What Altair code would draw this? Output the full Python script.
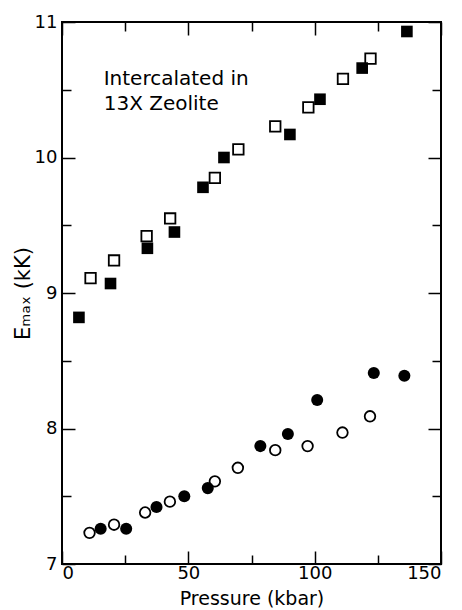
import altair as alt
import pandas as pd

# Filled squares
fsq_x = [6.7, 19.2, 33.8, 44.5, 55.8, 64.1, 90.2, 102.1, 118.8, 136.5]
fsq_y = [8.82, 9.07, 9.33, 9.45, 9.78, 10.00, 10.17, 10.43, 10.66, 10.93]
# Open squares
osq_x = [11.3, 20.6, 33.5, 42.8, 60.5, 69.8, 84.4, 97.5, 111.2, 122.1]
osq_y = [9.11, 9.24, 9.42, 9.55, 9.85, 10.06, 10.23, 10.37, 10.58, 10.73]
# Filled circles
fci_x = [15.3, 25.4, 37.4, 48.4, 57.7, 78.5, 89.4, 101.0, 123.4, 135.5]
fci_y = [7.26, 7.26, 7.42, 7.50, 7.56, 7.87, 7.96, 8.21, 8.41, 8.39]
# Open circles
oci_x = [10.9, 20.6, 32.9, 42.7, 60.5, 69.6, 84.4, 97.2, 111.0, 121.9]
oci_y = [7.23, 7.29, 7.38, 7.46, 7.61, 7.71, 7.84, 7.87, 7.97, 8.09]

x_label_vals = [0, 50, 100, 150]
x_tick_vals = [0, 25, 50, 75, 100, 125, 150]
y_label_vals = [7, 8, 9, 10, 11]
y_tick_vals = [7, 7.5, 8, 8.5, 9, 9.5, 10, 10.5, 11]

note_text = ["Intercalated in", "13X Zeolite"]
note_x = [16.5]
note_y = [10.65]

W, H = 379, 542
FONT = "DejaVu Sans"

xs = alt.Scale(domain=[0, 150], nice=False, zero=False)
ys = alt.Scale(domain=[7, 11], nice=False, zero=False)

def df(x, y):
    return pd.DataFrame({"p": x, "e": y})

xtick_size = {"condition": {"test": "datum.value % 50 === 0", "value": 13}, "value": 9}
ytick_size = {"condition": {"test": "datum.value % 1 === 0", "value": 13}, "value": 9}

# Layer 1: open squares, carries labels
l1 = alt.Chart(df(osq_x, osq_y)).mark_point(
    shape="square", filled=True, fill="white", stroke="black", strokeWidth=1.8, size=110, opacity=1
).encode(
    x=alt.X("p:Q", scale=xs, axis=alt.Axis(
        orient="bottom", values=x_label_vals, ticks=False, domain=False, grid=False,
        labelFont=FONT, labelFontSize=18, labelColor="black", labelPadding=0,
        title="Pressure  (kbar)", titleFont=FONT, titleFontSize=19, titleFontWeight="normal",
        titleColor="black", titlePadding=7)),
    y=alt.Y("e:Q", scale=ys, axis=alt.Axis(
        orient="left", values=y_label_vals, ticks=False, domain=False, grid=False,
        labelFont=FONT, labelFontSize=18, labelColor="black", labelPadding=5,
        title="Eₘₐₓ (kK)", titleFont=FONT, titleFontSize=21, titleFontWeight="normal",
        titleColor="black", titlePadding=1)),
)

# Layer 2: filled squares, inward ticks on bottom and left edges
l2 = alt.Chart(df(fsq_x, fsq_y)).mark_point(
    shape="square", filled=True, color="black", size=135, opacity=1
).encode(
    x=alt.X("p:Q", scale=xs, axis=alt.Axis(
        orient="top", offset=-H, values=x_tick_vals, labels=False, domain=False, grid=False,
        tickColor="black", tickWidth=1.5, tickSize=xtick_size, title=None)),
    y=alt.Y("e:Q", scale=ys, axis=alt.Axis(
        orient="right", offset=-W, values=y_tick_vals, labels=False, domain=False, grid=False,
        tickColor="black", tickWidth=1.5, tickSize=ytick_size, title=None)),
)

# Layer 3: open circles, inward ticks on top and right edges
l3 = alt.Chart(df(oci_x, oci_y)).mark_point(
    shape="circle", filled=True, fill="white", stroke="black", strokeWidth=1.8, size=112, opacity=1
).encode(
    x=alt.X("p:Q", scale=xs, axis=alt.Axis(
        orient="bottom", offset=-H, values=x_tick_vals, labels=False, domain=False, grid=False,
        tickColor="black", tickWidth=1.5, tickSize=xtick_size, title=None)),
    y=alt.Y("e:Q", scale=ys, axis=alt.Axis(
        orient="left", offset=-W, values=y_tick_vals, labels=False, domain=False, grid=False,
        tickColor="black", tickWidth=1.5, tickSize=ytick_size, title=None)),
)

# Layer 4: filled circles
l4 = alt.Chart(df(fci_x, fci_y)).mark_point(
    shape="circle", filled=True, color="black", size=145, opacity=1
).encode(
    x=alt.X("p:Q", scale=xs, axis=None),
    y=alt.Y("e:Q", scale=ys, axis=None),
)

note_df = pd.DataFrame({"p": note_x, "e": note_y, "t": [note_text]})
l5 = alt.Chart(note_df).mark_text(
    align="left", baseline="top", font=FONT, fontSize=20, color="black", lineHeight=25
).encode(
    x=alt.X("p:Q", scale=xs, axis=None),
    y=alt.Y("e:Q", scale=ys, axis=None),
    text="t",
)

chart = alt.layer(l1, l2, l3, l4, l5).resolve_axis(x="independent", y="independent").properties(
    width=W, height=H,
    autosize=alt.AutoSizeParams(type="none"),
    padding={"left": 62, "top": 22, "right": 21, "bottom": 46},
    background="white",
).configure_view(stroke="black", strokeWidth=2)

chart.save("out.html", embed_options={"renderer": "svg", "actions": False})
